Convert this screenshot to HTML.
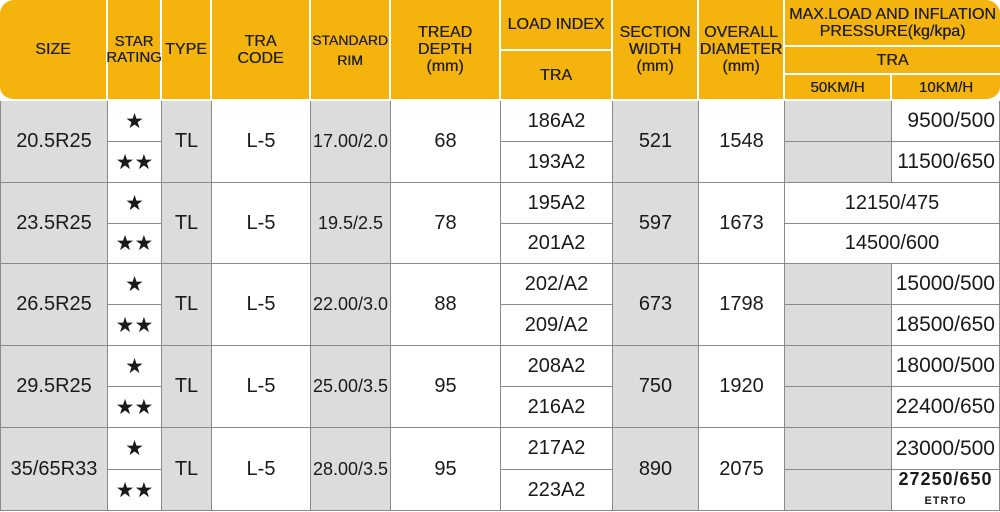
<!DOCTYPE html>
<html><head><meta charset="utf-8"><style>
body{margin:0;width:1000px;height:512px;background:#fff;overflow:hidden;font-family:"Liberation Sans",Arial,sans-serif;}
.c{position:absolute;box-sizing:border-box;display:flex;align-items:center;justify-content:center;text-align:center;color:#1a1a1a;}
.h{background:#f5b30e;font-size:16px;line-height:17px;color:#1e1e1e;border-right:2px solid #fff;border-bottom:2px solid #fff;text-shadow:0.3px 0 0 #1e1e1e;}
.d{font-size:20px;border-right:1px solid #8a8a8a;border-bottom:1px solid #8a8a8a;}
.g{background:#dcdcdc;}
.s{font-size:21px;}
</style></head><body>
<div class="c h" style="left:0;top:0;width:108px;height:101px;border-radius:14px 0 0 14px;">SIZE</div>
<div class="c h" style="left:108px;top:0;width:54px;height:101px;font-size:15px;line-height:16px;">STAR<br>RATING</div>
<div class="c h" style="left:162px;top:0;width:50px;height:101px;">TYPE</div>
<div class="c h" style="left:212px;top:0;width:99px;height:101px;">TRA<br>CODE</div>
<div class="c h" style="left:311px;top:0;width:80px;height:101px;font-size:14px;line-height:20px;">STANDARD<br>RIM</div>
<div class="c h" style="left:391px;top:0;width:110px;height:101px;">TREAD<br>DEPTH<br>(mm)</div>
<div class="c h" style="left:501px;top:0;width:112px;height:51px;">LOAD INDEX</div>
<div class="c h" style="left:501px;top:51px;width:112px;height:50px;">TRA</div>
<div class="c h" style="left:613px;top:0;width:86px;height:101px;">SECTION<br>WIDTH<br>(mm)</div>
<div class="c h" style="left:699px;top:0;width:86px;height:101px;">OVERALL<br>DIAMETER<br>(mm)</div>
<div class="c h" style="left:785px;top:0;width:215px;height:47px;border-right:0;border-radius:0 14px 0 0;">MAX.LOAD AND INFLATION<br>PRESSURE(kg/kpa)</div>
<div class="c h" style="left:785px;top:47px;width:215px;height:28px;border-right:0;">TRA</div>
<div class="c h" style="left:785px;top:75px;width:107px;height:26px;font-size:15px;">50KM/H</div>
<div class="c h" style="left:892px;top:75px;width:108px;height:26px;border-right:0;border-radius:0 0 14px 0;font-size:15px;">10KM/H</div>
<div id="rows"></div>
<script>
var rows=[
["20.5R25","17.00/2.0","68","186A2","193A2","521","1548","9500/500","11500/650",0],
["23.5R25","19.5/2.5","78","195A2","201A2","597","1673","12150/475","14500/600",1],
["26.5R25","22.00/3.0","88","202/A2","209/A2","673","1798","15000/500","18500/650",0],
["29.5R25","25.00/3.5","95","208A2","216A2","750","1920","18000/500","22400/650",0],
["35/65R33","28.00/3.5","95","217A2","223A2","890","2075","23000/500","27250/650",2]];
var tops=[101,183,264,346,428,511];
var h='';
function c(cls,l,t,w,hh,txt,extra){h+='<div class="c d '+cls+'" style="left:'+l+'px;top:'+t+'px;width:'+w+'px;height:'+hh+'px;'+(extra||'')+'">'+txt+'</div>';}
rows.forEach(function(r,i){
 var t=tops[i],H=tops[i+1]-t,h1=Math.round(H/2),h2=H-h1;
 c('g',0,t,108,H,r[0],'border-left:1px solid #8a8a8a;');
 c('s',108,t,54,h1,'★');c('s',108,t+h1,54,h2,'★★');
 c('g',162,t,50,H,'TL');
 c('',212,t,99,H,'L-5');
 c('g',311,t,80,H,r[1],'font-size:18px;');
 c('',391,t,110,H,r[2]);
 c('',501,t,112,h1,r[3]);c('',501,t+h1,112,h2,r[4]);
 c('g',613,t,86,H,r[5]);
 c('',699,t,86,H,r[6]);
 if(r[9]==1){c('',785,t,215,h1,r[7]);c('',785,t+h1,215,h2,r[8]);}
 else{
  c('g',785,t,107,h1,'');c('g',785,t+h1,107,h2,'');
  c('',892,t,108,h1,r[7],'justify-content:flex-end;padding-right:4px;font-size:21px;');
  if(r[9]==2)c('',892,t+h1,108,h2,'<div style="line-height:19px;font-weight:bold;font-size:18px;letter-spacing:1px">'+r[8]+'<br><span style="font-size:11px">ETRTO</span></div>');
  else c('',892,t+h1,108,h2,r[8],'justify-content:flex-end;padding-right:4px;font-size:21px;');
 }
});
document.getElementById('rows').innerHTML=h;
</script>
</body></html>
